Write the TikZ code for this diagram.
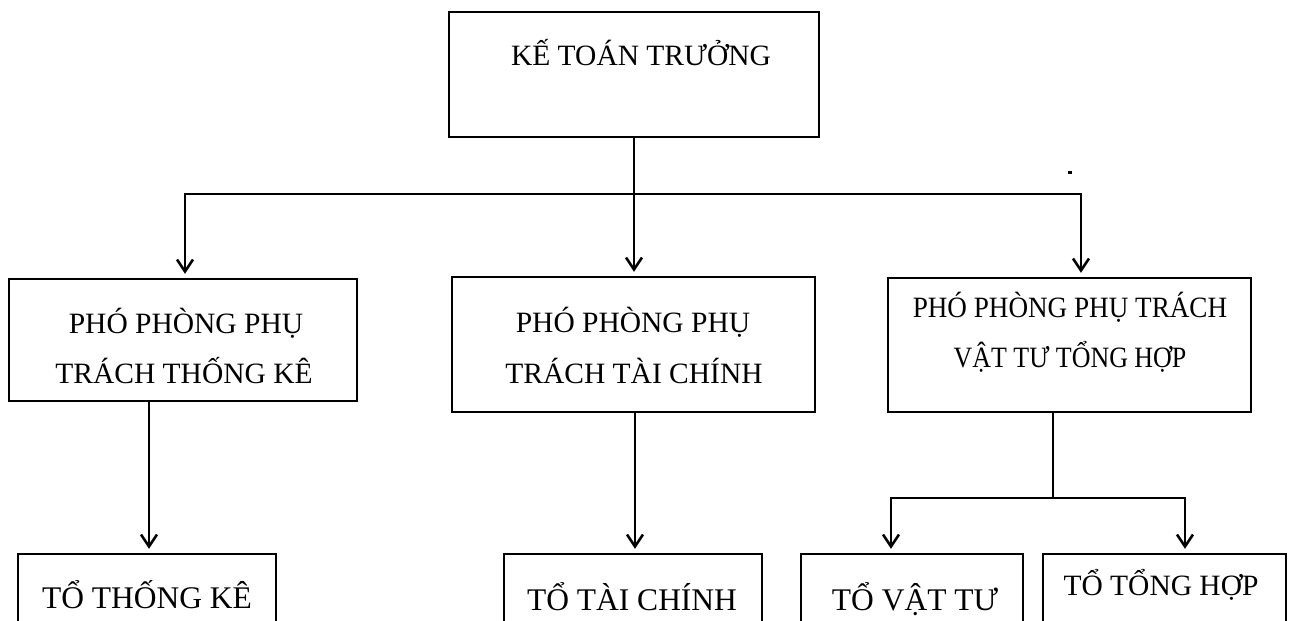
\documentclass[tikz,border=0pt]{standalone}
\usepackage{fontspec}
\setmainfont{Liberation Serif}
\usetikzlibrary{arrows.meta}
\begin{document}
\begin{tikzpicture}[x=1pt,y=-1pt,
  box/.style={draw, line width=2.3pt, rectangle, inner sep=0pt},
  conn/.style={line width=2.6pt},
  arr/.style={conn, -{Straight Barb[length=12pt,width=16pt,line width=2.6pt]}, shorten >=4pt},
  lbl/.style={anchor=base, inner sep=0pt, font=\fontsize{29.5}{35}\selectfont},
  lblbig/.style={lbl, font=\fontsize{31.5}{38}\selectfont},
  dotmark/.style={fill, rectangle, inner sep=0pt, minimum width=4pt, minimum height=3pt},
]
\useasboundingbox (0,0) rectangle (1291,621);
\clip (0,0) rectangle (1291,621);

% chief accountant
\node[box, minimum width=370pt, minimum height=125pt] (ktt) at (634,74.5) {};
\node[lbl] (kttT) at (641,65) {KẾ TOÁN TRƯỞNG};

% deputy heads
\node[box, minimum width=348pt, minimum height=122pt] (pp1) at (183,340) {};
\node[lbl] (pp1a) at (186,333) {PHÓ PHÒNG PHỤ};
\node[lbl] (pp1b) at (184,383) {TRÁCH THỐNG KÊ};

\node[box, minimum width=363pt, minimum height=135pt] (pp2) at (633.5,344.5) {};
\node[lbl] (pp2a) at (633,332) {PHÓ PHÒNG PHỤ};
\node[lbl] (pp2b) at (634,383) {TRÁCH TÀI CHÍNH};

\node[box, minimum width=363pt, minimum height=134pt] (pp3) at (1069.5,345) {};
\node[lbl] (pp3a) at (1070,317) {\scalebox{0.92}[1]{PHÓ PHÒNG PHỤ TRÁCH}};
\node[lbl] (pp3b) at (1070,367) {\scalebox{0.88}[1]{VẬT TƯ TỔNG HỢP}};

% teams (boxes run past the lower edge)
\node[box, minimum width=258pt, minimum height=100pt] (t1) at (147,604) {};
\node[lblbig] (t1T) at (147,608) {TỔ THỐNG KÊ};
\node[box, minimum width=258pt, minimum height=100pt] (t2) at (633,604) {};
\node[lblbig] (t2T) at (632,610) {TỔ TÀI CHÍNH};
\node[box, minimum width=222pt, minimum height=100pt] (t3) at (912,604) {};
\node[lblbig] (t3T) at (915,610) {TỔ VẬT TƯ};
\node[box, minimum width=243pt, minimum height=100pt] (t4) at (1164.5,604) {};
\node[lbl] (t4T) at (1161,595) {TỔ TỔNG HỢP};

\node[dotmark] (dot) at (1070,172) {};

% upper connectors
\coordinate (busL) at (185,194);
\coordinate (busR) at (1081,194);
\draw[arr] (ktt.south) -- (ktt.south |- pp2.north);
\draw[arr] (ktt.south |- busL) -- (busL) -- (busL |- pp1.north);
\draw[arr] (ktt.south |- busL) -- (busR) -- (busR |- pp3.north);

% lower connectors
\coordinate (s1) at ([xshift=-34pt]pp1.south);
\draw[arr] (s1) -- (s1 |- t1.north);
\coordinate (s2) at ([xshift=1.5pt]pp2.south);
\draw[arr] (s2) -- (s2 |- t2.north);
\coordinate (s3) at ([xshift=-16.5pt]pp3.south);
\coordinate (fork) at (1053,498);
\coordinate (forkL) at (891,498);
\coordinate (forkR) at (1185,498);
\draw[conn] (s3) -- (fork);
\draw[arr] (fork) -- (forkL) -- (forkL |- t3.north);
\draw[arr] (fork) -- (forkR) -- (forkR |- t4.north);
\end{tikzpicture}
\end{document}
